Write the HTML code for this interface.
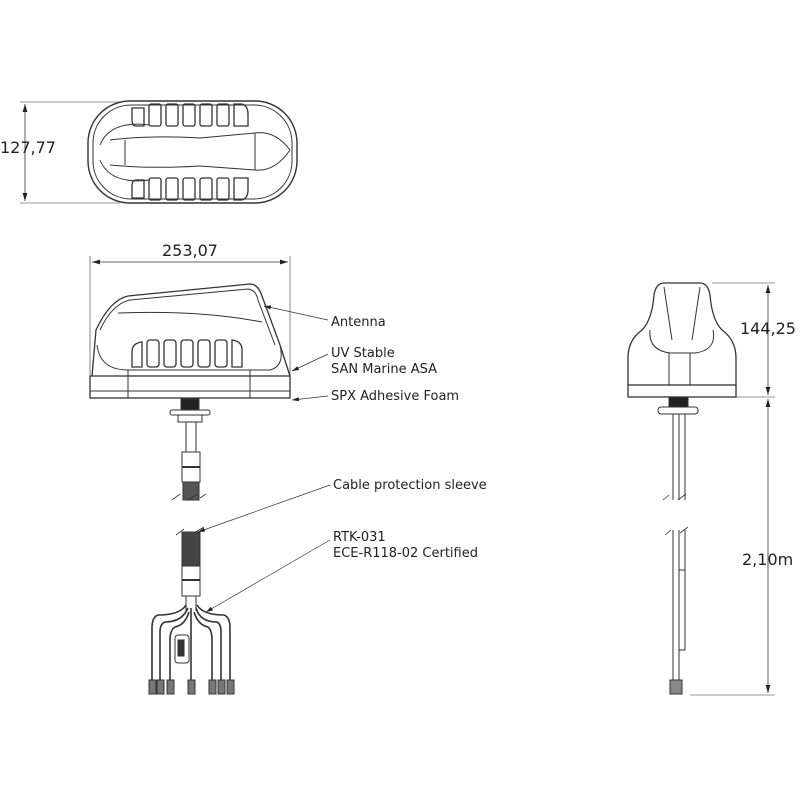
<!DOCTYPE html>
<html><head><style>body{margin:0;background:#fff}svg{display:block}text{font-family:"DejaVu Sans","Liberation Sans",sans-serif;fill:#222}</style></head><body>
<svg width="800" height="800" viewBox="0 0 800 800" xmlns="http://www.w3.org/2000/svg">
<defs><marker id="a" viewBox="0 0 10 6" refX="10" refY="3" markerWidth="10" markerHeight="6" orient="auto-start-reverse"><path d="M0,0L10,3L0,6z" fill="#222"/></marker></defs>
<g stroke="#333" fill="none" stroke-width="1">
<line x1="20" y1="102" x2="120" y2="102" stroke-width=".6"/>
<line x1="20" y1="203" x2="120" y2="203" stroke-width=".6"/>
<line x1="25" y1="104" x2="25" y2="201" marker-start="url(#a)" marker-end="url(#a)" stroke-width=".8"/>
<rect x="88" y="101" width="209" height="102" rx="42" stroke-width="1.4"/>
<rect x="93" y="105" width="199" height="94" rx="38"/>
<path d="M110,140 Q150,135 200,138 L255,133 Q275,130 290,150 Q275,172 255,170 L200,166 Q150,169 110,165"/>
<path d="M125,140 L125,165 M255,133 L255,170 M100,145 Q110,120 150,125 M100,160 Q110,185 150,180"/>
<g stroke-width="1.3">
<path d="M132,108 h12 v18 h-8 q-4,0 -4,-6z"/><rect x="149" y="104" width="12" height="22" rx="2"/><rect x="166" y="104" width="12" height="22" rx="2"/><rect x="183" y="104" width="12" height="22" rx="2"/><rect x="200" y="104" width="12" height="22" rx="2"/><rect x="217" y="104" width="12" height="22" rx="2"/><path d="M234,104 h8 q6,2 6,10 v12 h-14z"/>
<path d="M132,198 h12 v-18 h-8 q-4,0 -4,6z"/><rect x="149" y="178" width="12" height="22" rx="2"/><rect x="166" y="178" width="12" height="22" rx="2"/><rect x="183" y="178" width="12" height="22" rx="2"/><rect x="200" y="178" width="12" height="22" rx="2"/><rect x="217" y="178" width="12" height="22" rx="2"/><path d="M234,200 h8 q6,-2 6,-10 v-12 h-14z"/>
</g>
<line x1="90" y1="256" x2="90" y2="375" stroke-width=".6"/>
<line x1="290" y1="256" x2="290" y2="375" stroke-width=".6"/>
<line x1="92" y1="262" x2="288" y2="262" marker-start="url(#a)" marker-end="url(#a)" stroke-width=".8"/>
<path d="M92,376 L96,330 Q110,300 128,296 L250,284 Q258,284 262,296 L280,345 L290,376" stroke-width="1.3"/>
<path d="M100,330 Q112,304 130,300 L248,289 Q256,290 258,300 L275,345"/>
<path d="M118,313 Q200,310 262,322"/>
<path d="M97,345 Q100,370 128,370 L270,370 Q285,366 280,345"/>
<path d="M128,370 L128,398 M250,370 L250,398"/>
<rect x="90" y="376" width="200" height="22" stroke-width="1.3"/>
<line x1="90" y1="391" x2="290" y2="391"/>
<g stroke-width="1.3">
<path d="M132,367 v-15 q0,-9 10,-10 v25z"/><rect x="147" y="340" width="12" height="27" rx="3"/><rect x="164" y="340" width="12" height="27" rx="3"/><rect x="181" y="340" width="12" height="27" rx="3"/><rect x="198" y="340" width="12" height="27" rx="3"/><rect x="215" y="340" width="12" height="27" rx="3"/><path d="M232,340 q10,1 10,10 v17 h-10z"/>
</g>
<rect x="181" y="399" width="18" height="11" fill="#222"/>
<rect x="170" y="410" width="40" height="5" rx="2"/>
<rect x="178" y="415" width="24" height="7"/>
<line x1="186" y1="422" x2="186" y2="452"/><line x1="196" y1="422" x2="196" y2="452"/>
<rect x="182" y="452" width="18" height="30"/><line x1="182" y1="467" x2="200" y2="467" stroke-width="2"/>
<rect x="183" y="482" width="16" height="18" fill="#555"/>
<path d="M172,500 l8,-6 M188,500 l10,-6 M200,498 l6,-4" stroke-width=".8"/>
<path d="M176,535 l8,-6 M194,533 l10,-6" stroke-width=".8"/>
<rect x="182" y="532" width="18" height="34" fill="#444"/>
<rect x="182" y="566" width="18" height="30"/><line x1="182" y1="580" x2="200" y2="580" stroke-width="2"/>
<path d="M186,596 v15 M196,596 v15"/>
<g stroke-width="1.6">
<path d="M186,605 Q180,615 158,615 Q152,617 152,628 V685"/>
<path d="M188,608 Q182,622 165,622 Q160,624 160,632 V685"/>
<path d="M189,612 Q185,625 175,627 Q170,630 170,640 V685"/>
<path d="M191,608 V685"/>
<path d="M194,612 Q198,625 208,627 Q212,630 212,640 V685"/>
<path d="M196,608 Q200,622 217,622 Q221,624 221,632 V685"/>
<path d="M197,605 Q203,615 224,615 Q230,617 230,628 V685"/>
</g>
<rect x="175" y="635" width="14" height="28" rx="3"/><rect x="178" y="640" width="6" height="16" fill="#333"/>
<g fill="#777"><rect x="149" y="680" width="7" height="14"/><rect x="157" y="680" width="7" height="14"/><rect x="167" y="680" width="7" height="14"/><rect x="188" y="680" width="7" height="14"/><rect x="209" y="680" width="7" height="14"/><rect x="218" y="680" width="7" height="14"/><rect x="227" y="680" width="7" height="14"/></g>
<g stroke-width=".7">
<line x1="328" y1="320" x2="264" y2="306" marker-end="url(#a)"/>
<line x1="328" y1="354" x2="292" y2="371" marker-end="url(#a)"/>
<line x1="328" y1="396" x2="292" y2="400" marker-end="url(#a)"/>
<line x1="330" y1="485" x2="198" y2="532" marker-end="url(#a)"/>
<line x1="330" y1="540" x2="206" y2="612" marker-end="url(#a)"/>
</g>
<line x1="712" y1="283" x2="775" y2="283" stroke-width=".6"/>
<line x1="735" y1="397" x2="775" y2="397" stroke-width=".6"/>
<line x1="690" y1="695" x2="775" y2="695" stroke-width=".6"/>
<line x1="768" y1="285" x2="768" y2="395" marker-start="url(#a)" marker-end="url(#a)" stroke-width=".8"/>
<line x1="768" y1="399" x2="768" y2="693" marker-start="url(#a)" marker-end="url(#a)" stroke-width=".8"/>
<path d="M628,385 L628,358 Q628,340 642,330 Q652,320 654,295 Q656,283 664,283 L700,283 Q708,283 710,295 Q712,320 722,330 Q736,340 736,358 L736,385" stroke-width="1.3"/>
<path d="M664,287 L672,340 M700,287 L692,340 M650,330 Q648,350 670,353 L695,353 Q717,350 713,330"/>
<line x1="669" y1="353" x2="669" y2="385"/><line x1="690" y1="353" x2="690" y2="385"/>
<rect x="628" y="385" width="108" height="12" stroke-width="1.3"/>
<rect x="669" y="397" width="19" height="10" fill="#222"/>
<rect x="658" y="407" width="40" height="7" rx="3"/>
<path d="M673,414 V500 M679,414 V500 M685,414 V500"/>
<path d="M663,500 l6,-5 M678,500 l8,-6" stroke-width=".8"/>
<path d="M665,535 l6,-5 M680,533 l8,-6" stroke-width=".8"/>
<path d="M673,530 V690 M679,530 V690 M685,530 V600"/>
<rect x="679" y="570" width="6" height="80"/>
<rect x="670" y="680" width="12" height="14" fill="#888"/>
</g>
<text x="0" y="153" font-size="16">127,77</text>
<text x="190" y="256" font-size="16" text-anchor="middle">253,07</text>
<text x="740" y="334" font-size="16">144,25</text>
<text x="742" y="565" font-size="16">2,10m</text>
<g font-size="13">
<text x="331" y="326">Antenna</text>
<text x="331" y="357">UV Stable</text>
<text x="331" y="373">SAN Marine ASA</text>
<text x="331" y="400">SPX Adhesive Foam</text>
<text x="333" y="489">Cable protection sleeve</text>
<text x="333" y="541">RTK-031</text>
<text x="333" y="557">ECE-R118-02 Certified</text>
</g>
</svg>
</body></html>
